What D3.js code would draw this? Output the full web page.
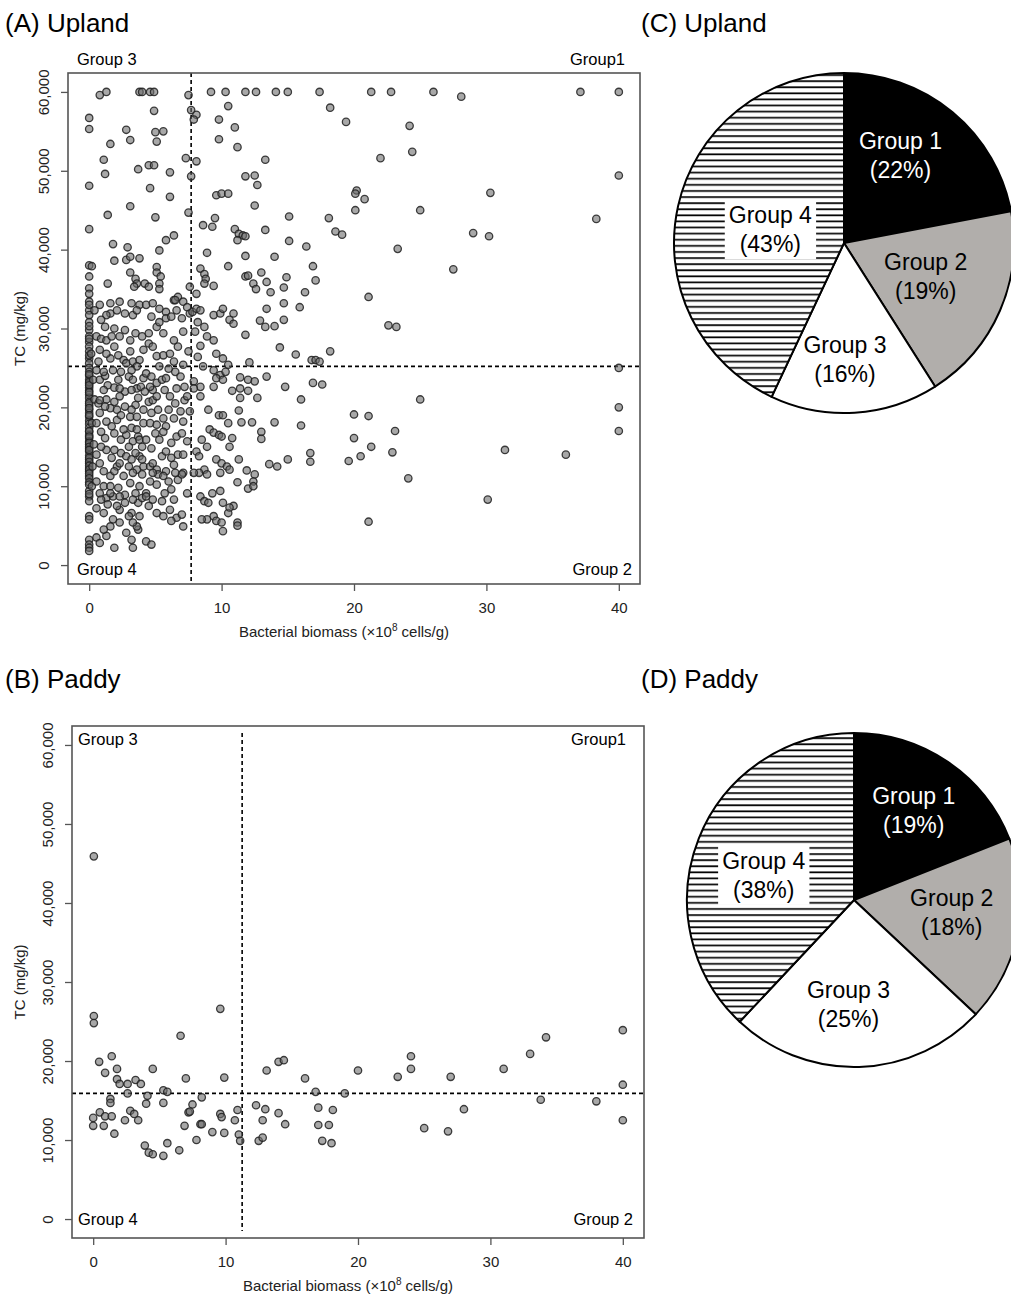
<!DOCTYPE html>
<html>
<head>
<meta charset="utf-8">
<script src="https://cdn.jsdelivr.net/npm/d3@7"></script>
<style>
	body { margin: 0; background: #fff; }
	text { font-family: "Liberation Sans", Arial, sans-serif; }
</style>
</head>
<body>
<div id="chart"></div>
<script>
/**
 * Bacterial biomass vs TC scatter plots (upland, paddy) and group share pies.
 */

// ---- data ----
const groupNames = ["Group 1", "Group 2", "Group 3", "Group 4"];
const uplandShares = [22, 19, 16, 43];
const paddyShares = [19, 18, 25, 38];

const xTicks = [0, 10, 20, 30, 40];
const yTicks = [0, 10000, 20000, 30000, 40000, 50000, 60000];

// [biomass cut, TC cut]
const uplandCuts = [7.7, 25200];
const paddyCuts = [11.25, 15900];

// [bacterial biomass (x10^8 cells/g), TC (mg/kg)]
const uplandPoints = [
	[0.8,59600],[1.3,60000],[3.8,60000],[4.0,60000],[4.6,60000],[4.9,60000],[7.5,59600],[9.2,60000],[10.3,60000],[11.8,60000],
	[12.6,60000],[14.1,60000],[15.0,60000],[17.4,60000],[21.3,60000],[22.8,60000],[26.0,60000],[28.1,59400],[37.1,60000],[40,60000],
	[18.2,58000],[19.4,56200],[24.2,55700],[24.4,52400],[22.0,51600],[40,49400],[20.2,47500],[20.1,47100],[20.8,46400],[30.3,47200],
	[20.1,45000],[25.0,45000],[18.1,44000],[38.3,43900],[18.6,42300],[19.1,41900],[29.0,42100],[30.2,41700],[23.3,40100],[27.5,37500],[21.1,34000],
	[0,56700],[0,55300],[0,48100],[0,42600],[0,38000],[0,36600],[0,35100],[0.2,37900],[0,34400],
	[1.6,53400],[1.1,51400],[1.2,49600],[1.4,44400],[1.8,40700],[1.4,35700],[1.9,38600],[2.8,55200],[3.1,53900],[2.8,38700],
	[3.1,39100],[2.9,40300],[3.8,38900],[3.1,37100],[3.5,36300],[3.6,35700],[3.4,35300],[4.2,35700],[4.5,35300],[3.1,45500],
	[3.7,50200],[4.5,50700],[4.9,50700],[4.6,47800],[4.9,57600],[5.0,54900],[5.6,55000],[5.1,53700],[6.1,49800],[6.1,46700],
	[5.0,44100],[5.3,39900],[5.8,41200],[6.4,41800],[5.1,37800],[5.1,37100],[5.4,36600],[5.3,35700],[5.3,35000],[6.4,33600],[6.7,34000],
	[7.3,51600],[7.7,57700],[8.1,57100],[7.9,56500],[8.1,51200],[7.7,49300],[7.5,44700],[7.6,35300],[8.1,34400],[8.6,43100],
	[9.3,42900],[9.5,44000],[8.9,39600],[8.4,37600],[8.7,36900],[8.8,36300],[8.7,35700],[9.4,35400],[9.8,56500],[9.8,54000],
	[10.5,58200],[11.0,55500],[11.2,53000],[9.6,46900],[10.0,47100],[10.5,47100],[11.8,49300],[12.5,49400],[12.7,48200],[12.5,45600],
	[13.3,51400],[11.0,42600],[11.3,42000],[11.6,41800],[11.8,41700],[11.2,41200],[13.3,42500],[11.8,39200],[10.5,37900],[11.8,36600],
	[12.0,36700],[13.0,37100],[14.0,39100],[15.1,44200],[15.1,41100],[16.4,40400],[16.9,37900],[17.1,36100],[16.3,34600],[14.9,36500],
	[14.7,35200],[13.4,35900],[13.7,34600],[12.4,35700],[12.6,35000],
	[0,33400],[0,32300],[0,31700],[0,29800],[0,29000],[0,28300],[0,27700],[0,27100],[0,26200],[0,25600],
	[0,25000],[0,24500],[0,24000],[0,23500],[0,23000],[0,22500],[0,22100],[0,21600],[0,21200],[0,20700],
	[0,20200],[0,19700],[0,19300],[0,18800],[0,18300],[0,17900],[0,17400],[0,16900],[0,16500],[0,16100],
	[0,15700],[0,15300],[0,14800],[0,14400],[0,13900],[0,13400],[0,12900],[0,12300],[0,11900],[0,11300],
	[0,9400],[0,8700],[0,8100],[0,6200],[0,5800],[0,3200],[0,2600],[0,2200],[0,1800],
	[0,33000],[0,30800],[0,30300],[0,28700],[0,26600],[0,24200],[0,23200],[0,22800],[0,21900],[0,20500],
	[0,19900],[0,19000],[0,17000],[0,16300],[0,15500],[0,15000],[0,14600],[0,13600],[0,13100],[0,12600],
	[0,12100],[0,11600],[0,11000],[0,10500],[0,10200],[0,9000],
	[0.3,23500],[0.4,21000],[0.35,15300],[0.25,12500],[0.2,18000],[0.15,26800],[0.2,10000],
	[0.8,33000],[1.6,33200],[2.3,33400],[3.2,33200],[3.8,33000],[1.6,31900],[1.3,31700],[0.9,31100],
	[0.55,29000],[0.9,28700],[1.3,28500],[1.7,29000],[1.9,30000],[2.7,29800],[3.5,29400],[3.3,31700],[3.6,32300],
	[1.6,26200],[2.2,26600],[2.6,26000],[2.8,25600],[3.3,25800],[3.8,26000],[4.1,27300],
	[0.8,23500],[1.2,24000],[1.4,22800],[1.9,22500],[2.2,23500],[2.7,22000],[3.0,23900],[3.3,23500],[3.6,22400],[3.9,22600],[4.2,22000],[0.55,24700],[1.1,24500],
	[0.7,20500],[0.8,19300],[1.3,21000],[1.6,19900],[1.9,20700],[2.3,21400],[2.7,20100],[3.1,18800],[3.5,20300],[3.7,21200],[4.1,19700],[0.8,20900],
	[0.55,18000],[0.9,16900],[1.2,16100],[1.7,17600],[2.1,18400],[2.4,15900],[2.8,16500],[3.2,17400],[3.3,15700],[3.7,16300],[4.0,15000],[4.1,18000],
	[0.55,14000],[0.8,12900],[1.3,14600],[1.7,13600],[2.1,12500],[2.4,14200],[2.8,13800],[3.2,13400],[3.6,12100],[3.8,13800],[4.1,12500],
	[0.55,10600],[1.1,10000],[1.3,8500],[1.8,8700],[2.2,9800],[2.7,8900],[3.1,10400],[3.5,9100],[3.8,10000],[4.3,9100],[0.8,9100],
	[0.55,7200],[1.1,6600],[1.4,7700],[1.8,5800],[2.3,7000],[2.7,7900],[3.2,6600],[3.7,7900],[3.8,6200],
	[0.55,3500],[0.8,2800],[1.3,3700],[1.9,2200],[3.2,3200],[3.3,2200],[3.7,4500],[3.6,4900],[4.3,3000],[4.7,2600],
	[0.4,32300],[2.1,32300],[2.7,31900],[1.2,30200],[2.3,29000],[3.1,28500],[4.0,29000],[0.8,27300],[1.3,26800],[1.9,27700],
	[3.1,27100],[3.6,25200],[0.7,25800],[1.8,24700],[2.4,24500],[3.2,24700],[4.1,23700],[1.1,22200],[2.3,22400],[3.2,22200],
	[1.2,20100],[2.1,19700],[2.4,19000],[3.2,19700],[3.6,18800],[1.3,18200],[1.9,16700],[2.6,17200],[3.0,15000],[3.6,17200],
	[3.8,15900],[0.9,15000],[1.9,14600],[2.3,12900],[3.0,12500],[3.5,14200],[4.0,13400],[1.1,11900],[1.6,11300],[1.9,11900],
	[2.6,11300],[3.3,11700],[4.0,11500],[1.6,10000],[2.3,8700],[3.3,8300],[4.0,8500],[0.9,8300],[1.6,9100],[2.1,7500],
	[3.0,6200],[3.3,5400],[1.6,4900],[1.1,4500],[2.3,5400],[2.8,4100],
	[4.3,33000],[4.8,33200],[5.3,32500],[5.8,32100],[6.5,33600],[7.1,33400],[6.6,32300],
	[4.5,29400],[5.1,30200],[5.3,30800],[5.8,31300],[6.2,31500],[7.0,31300],[7.4,32700],[7.6,31900],
	[4.5,28100],[4.8,27700],[5.1,26500],[5.6,26600],[6.1,26800],[6.4,25800],[6.7,27700],[7.1,25400],[7.5,27100],
	[4.3,24300],[4.7,23900],[5.1,23100],[5.5,23500],[5.8,23700],[6.5,24500],[6.9,23900],[7.2,22600],[4.8,22200],
	[4.5,20700],[4.8,20900],[5.2,19700],[5.6,18600],[6.1,21400],[6.5,20500],[6.9,19500],[7.2,20900],[5.1,21400],
	[4.6,18000],[5.0,16700],[5.3,15900],[5.8,17600],[6.2,15500],[6.6,16300],[7.1,18200],[7.4,15700],[4.3,15900],
	[4.6,12500],[4.8,12900],[5.1,12100],[5.5,13800],[5.8,11900],[6.4,12700],[6.7,14000],[7.1,11700],[5.2,11500],
	[4.6,10600],[5.1,10200],[5.6,11300],[6.2,9600],[6.7,10800],[7.0,11500],[7.4,9100],[4.3,8700],
	[4.5,7500],[5.1,6600],[5.5,8100],[6.1,7000],[6.6,6000],[7.0,6400],[7.1,4900],[6.2,5600],
	[4.7,31500],[5.6,29400],[6.4,28500],[7.1,29600],[5.3,25200],[6.0,24900],[4.6,22600],[5.7,22200],[6.6,22400],[4.7,19300],
	[6.0,19700],[6.4,18600],[5.1,17800],[5.6,16900],[7.0,16700],[4.7,14800],[5.8,14400],[6.2,13600],[7.1,14000],[4.8,11700],
	[6.0,10600],[6.5,11700],[5.7,9100],[6.4,8300],[4.8,8300],[5.6,6200],
	[7.8,32100],[8.1,32500],[8.4,32300],[8.2,30800],[8.7,30200],[8.0,29600],[8.9,29000],[9.4,31700],[9.9,31900],[10.1,32500],
	[10.6,31100],[8.4,27800],[9.4,28500],[9.6,26800],[10.1,26200],[10.5,25400],[8.2,26400],[8.6,25200],[9.4,24700],[9.9,24100],
	[10.3,24500],[9.6,23700],[10.1,23500],[7.9,23300],[8.4,22600],[7.4,21400],[7.9,22400],[7.6,19500],[8.4,21400],[9.0,19700],
	[9.4,22600],[9.8,19000],[10.1,19000],[9.1,17200],[9.4,16800],[9.8,16500],[10.0,16300],[8.5,15900],[8.9,15000],[8.1,14400],
	[8.3,13800],[8.7,12100],[8.3,11700],[8.9,11500],[7.9,11700],[9.6,13400],[10.0,12900],[10.4,12500],[9.9,11700],[8.4,8700],
	[8.7,8100],[9.0,7900],[9.3,9100],[9.9,9400],[10.1,7900],[9.4,6200],[9.6,5600],[10.0,5400],[8.9,5800],[8.5,5800],[10.1,4300],
	[13.4,32500],[14.7,33200],[15.9,32700],[12.9,31000],[13.3,30200],[14.0,30300],[14.7,31100],[10.9,31900],[10.9,30600],[11.8,29200],
	[14.4,27600],[15.6,26700],[16.8,26000],[17.1,26000],[17.4,25800],[16.9,23100],[17.6,22900],[14.8,22600],[13.4,23900],[16.0,21000],
	[12.7,21200],[12.1,25700],[11.4,23800],[12.0,23500],[12.5,23300],[10.8,22100],[11.4,22400],[12.0,22100],[11.4,21200],[11.3,19600],
	[11.5,18100],[12.3,18100],[10.5,18000],[13.0,16900],[13.0,16000],[14.0,18100],[16.0,17700],[10.8,16100],[10.6,15000],[11.3,13400],
	[10.6,12100],[11.9,12000],[13.6,12800],[14.2,12500],[15.0,13400],[16.7,14200],[16.7,13100],[12.5,11500],[12.4,10600],[12.0,9700],
	[12.4,10000],[11.2,10500],[10.9,7500],[10.5,6600],[10.6,7300],[11.2,5400],[11.2,5000],
	[22.6,30400],[23.2,30200],[18.2,27100],[40,25000],[25.0,21000],[40,20000],[40,17000],[20.0,19100],[21.1,18900],[23.1,17000],
	[20.0,16100],[21.3,15000],[20.5,13800],[19.6,13200],[22.9,14300],[31.4,14600],[36.0,14000],[24.1,11000],[30.1,8300],[21.1,5500]
];

const paddyPoints = [
	[0.05,45900],[0.05,25700],[0.05,24800],[0.45,19900],[0.9,18500],[1.4,20600],[1.8,19000],[1.8,17700],[2.0,17100],[2.6,17100],
	[3.2,17600],[3.6,17100],[4.5,19000],[2.6,15900],[1.3,15200],[1.3,14700],[4.1,15600],[4.0,14600],[5.3,16300],[5.6,16100],
	[5.3,14700],[6.6,23200],[7.0,17800],[7.5,14500],[8.2,15400],[7.2,13500],[7.3,13600],[9.6,26600],[9.9,17900],[9.6,13300],
	[9.7,12900],[10.9,13800],[10.7,12500],[11.0,10700],[11.1,9900],[0,12800],[0,11800],[0.5,13500],[0.9,13000],[1.4,13000],
	[0.8,11800],[1.6,10800],[2.4,12500],[2.8,13700],[3.1,13300],[3.4,12500],[3.9,9300],[4.2,8400],[4.5,8200],[5.3,8000],
	[5.6,9600],[6.5,8700],[6.9,11800],[7.8,10000],[8.1,12000],[8.2,12000],[9.0,11000],[9.9,10900],[12.3,14400],[12.8,12500],
	[13.1,18800],[13.0,13900],[12.5,9900],[12.8,10300],[14.0,13400],[14.0,19900],[14.4,20100],[14.5,12000],[16.0,17800],[16.8,16100],
	[17.0,14100],[17.0,11900],[17.8,11900],[17.3,9900],[18.0,9600],[18.1,13800],
	[19.0,15900],[20.0,18800],[23.0,18000],[24.0,20600],[24.0,19000],[25.0,11500],[26.8,11100],[27.0,18000],[28.0,13900],[31.0,19000],
	[33.0,20900],[34.2,23000],[33.8,15100],[38.0,14900],[40,23900],[40,17000],[40,12500]
];

/**
 * Draws one scatter panel with its frame, axes, cut lines and corner labels.
 */
function drawScatter(svg, panel) {
	const f = panel.frame;
	const x = d3.scaleLinear().domain([-1.6, 41.6]).range([f.left, f.right]);
	const y = d3.scaleLinear().domain([-2400, 62400]).range([f.bottom, f.top]);
	const g = svg.append("g");

	g.append("text")
		.attr("x", 5).attr("y", panel.titleY)
		.attr("font-size", 26).attr("fill", "#000")
		.text(panel.title);

	// axes
	const yAxis = g.append("g")
		.attr("transform", "translate(" + f.left + ",0)")
		.call(d3.axisLeft(y).tickValues(yTicks).tickFormat(d3.format(",")).tickSize(7));
	yAxis.select(".domain").remove();
	yAxis.selectAll("line").attr("stroke", "#555").attr("stroke-width", 1.3);
	yAxis.selectAll("text")
		.attr("x", 0).attr("dy", 0)
		.attr("text-anchor", "middle")
		.attr("transform", "translate(-19,0) rotate(-90)")
		.attr("font-size", 15).attr("fill", "#222");

	const xAxis = g.append("g")
		.attr("transform", "translate(0," + f.bottom + ")")
		.call(d3.axisBottom(x).tickValues(xTicks).tickSize(7).tickPadding(11));
	xAxis.select(".domain").remove();
	xAxis.selectAll("line").attr("stroke", "#555").attr("stroke-width", 1.3);
	xAxis.selectAll("text").attr("font-size", 15).attr("fill", "#222");

	g.append("text")
		.attr("transform", "translate(25," + (f.top + f.bottom) / 2 + ") rotate(-90)")
		.attr("text-anchor", "middle")
		.attr("font-size", 15).attr("fill", "#222")
		.text("TC (mg/kg)");

	const xTitle = g.append("text")
		.attr("x", (f.left + f.right) / 2 - 10).attr("y", f.bottom + 53)
		.attr("text-anchor", "middle")
		.attr("font-size", 15).attr("fill", "#222");
	xTitle.append("tspan").text("Bacterial biomass (\u00d710");
	xTitle.append("tspan").attr("dy", -6).attr("font-size", 10).text("8");
	xTitle.append("tspan").attr("dy", 6).text(" cells/g)");

	// cut lines
	g.append("line")
		.attr("x1", x(panel.cuts[0])).attr("x2", x(panel.cuts[0]))
		.attr("y1", f.top + panel.vInset).attr("y2", f.bottom - panel.vInset)
		.attr("stroke", "#000").attr("stroke-width", 1.6).attr("stroke-dasharray", "4,3");
	g.append("line")
		.attr("x1", f.left).attr("x2", f.right)
		.attr("y1", y(panel.cuts[1])).attr("y2", y(panel.cuts[1]))
		.attr("stroke", "#000").attr("stroke-width", 1.6).attr("stroke-dasharray", "4,3");

	// points
	g.append("g")
		.selectAll("circle")
		.data(panel.points)
		.enter()
		.append("circle")
		.attr("cx", d => x(d[0]))
		.attr("cy", d => y(d[1]))
		.attr("r", 3.7)
		.attr("fill", "rgba(110,110,110,0.6)")
		.attr("stroke", "rgba(30,30,30,0.85)")
		.attr("stroke-width", 1.3);

	// frame
	g.append("rect")
		.attr("x", f.left).attr("y", f.top)
		.attr("width", f.right - f.left).attr("height", f.bottom - f.top)
		.attr("fill", "none").attr("stroke", "#555").attr("stroke-width", 1.6);

	// corner labels
	const L = panel.labels;
	const corner = [
		["Group 3", f.left + L.left, f.top + L.top, "start"],
		["Group1", f.right - L.rightTop, f.top + L.top, "end"],
		["Group 4", f.left + L.left, f.bottom - L.bottom, "start"],
		["Group 2", f.right - L.rightBottom, f.bottom - L.bottom, "end"]
	];
	g.selectAll(".corner")
		.data(corner)
		.enter()
		.append("text")
		.attr("class", "corner")
		.attr("x", d => d[1]).attr("y", d => d[2])
		.attr("text-anchor", d => d[3])
		.attr("font-size", 16.5).attr("fill", "#000")
		.text(d => d[0]);
}

/**
 * Draws one pie panel.
 */
function drawPie(svg, panel) {
	const g = svg.append("g");
	g.append("text")
		.attr("x", 641).attr("y", panel.titleY)
		.attr("font-size", 26).attr("fill", "#000")
		.text(panel.title);

	const pie = d3.pie().sort(null).value(d => d);
	const arcs = pie(panel.shares);
	const arc = d3.arc().innerRadius(0).outerRadius(panel.radius);
	const fills = ["#000", "#b1aeab", "#fff", "url(#stripes)"];
	const textFill = ["#fff", "#000", "#000", "#000"];

	const pg = g.append("g").attr("transform", "translate(" + panel.cx + "," + panel.cy + ")");
	pg.selectAll("path")
		.data(arcs)
		.enter()
		.append("path")
		.attr("d", arc)
		.attr("fill", (d, i) => fills[i])
		.attr("stroke", "#000")
		.attr("stroke-width", 2)
		.attr("stroke-linejoin", "round");

	arcs.forEach((d, i) => {
		const a = (d.startAngle + d.endAngle) / 2 + panel.labelTurn[i] * Math.PI / 180;
		const r = panel.labelRadius[i] * panel.radius;
		const lx = r * Math.sin(a), ly = -r * Math.cos(a);
		const lg = pg.append("g");
		const t = lg.append("text")
			.attr("text-anchor", "middle")
			.attr("font-size", 23)
			.attr("fill", textFill[i]);
		t.append("tspan").attr("x", lx).attr("y", ly - 7).text(groupNames[i]);
		t.append("tspan").attr("x", lx).attr("y", ly + 22).text("(" + panel.shares[i] + "%)");
		if (i === 3) {
			const b = t.node().getBBox();
			lg.insert("rect", "text")
				.attr("x", b.x - 4).attr("y", b.y - 2)
				.attr("width", b.width + 8).attr("height", b.height + 4)
				.attr("fill", "#fff");
		}
	});
}

(function (d3) {
	"use strict";
	const svg = d3.select("#chart")
		.append("svg")
		.attr("width", 1011)
		.attr("height", 1296);

	const pattern = svg.append("defs").append("pattern")
		.attr("id", "stripes")
		.attr("patternUnits", "userSpaceOnUse")
		.attr("width", 10).attr("height", 6.1);
	pattern.append("rect").attr("width", 10).attr("height", 6.1).attr("fill", "#fff");
	pattern.append("rect").attr("y", 2).attr("width", 10).attr("height", 1.7).attr("fill", "#000");

	drawScatter(svg, {
		title: "(A) Upland", titleY: 32,
		frame: { left: 68, right: 640, top: 73, bottom: 584 },
		points: uplandPoints, cuts: uplandCuts, vInset: 0,
		labels: { left: 9, top: -8, rightTop: 15, rightBottom: 8, bottom: 9 }
	});
	drawScatter(svg, {
		title: "(B) Paddy", titleY: 688,
		frame: { left: 72, right: 644, top: 726, bottom: 1238 },
		points: paddyPoints, cuts: paddyCuts, vInset: 7,
		labels: { left: 6, top: 19, rightTop: 18, rightBottom: 11, bottom: 13 }
	});

	drawPie(svg, {
		title: "(C) Upland", titleY: 32,
		cx: 844, cy: 243, radius: 170, shares: uplandShares,
		labelRadius: [0.61, 0.52, 0.69, 0.44],
		labelTurn: [-6.6, -0.9, 3.1, -2.6]
	});
	drawPie(svg, {
		title: "(D) Paddy", titleY: 688,
		cx: 854, cy: 900, radius: 167, shares: paddyShares,
		labelRadius: [0.64, 0.59, 0.63, 0.56],
		labelTurn: [-0.2, -3.2, 4.8, -6.6]
	});
})(d3);
</script>
</body>
</html>
